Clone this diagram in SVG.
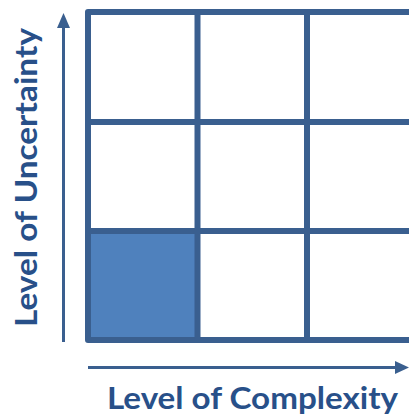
<svg xmlns="http://www.w3.org/2000/svg" width="409" height="416" viewBox="0 0 409 416">
<style>
.grid{fill:none;stroke:#3A5F8F;stroke-width:6;stroke-linejoin:round;stroke-linecap:butt}
.axis{stroke:#3A5F8F;stroke-width:3;fill:none}
.head{fill:#3A5F8F}
.lbl{font-family:Lato,"Open Sans","Liberation Sans",sans-serif;font-weight:bold;font-size:30px;fill:#285089}
</style>
<rect width="409" height="416" fill="#ffffff"/>
<g id="cell-highlight">
<rect x="88" y="231" width="109.5" height="109" fill="#4F81BD"/>
</g>
<g id="grid">
<path class="grid" d="M412 12 H88 V340 H412"/>
<path class="grid" d="M197.5 12 V340 M307 12 V340 M88 122 H412 M88 231 H412"/>
</g>
<g id="connectors">
<line class="axis" x1="63.5" y1="342" x2="63.5" y2="26"/>
<polygon class="head" points="63.5,13 57,28 70,28"/>
<line class="axis" x1="88" y1="367.5" x2="397" y2="367.5"/>
<polygon class="head" points="409,367.5 395,361 395,374"/>
</g>
<g id="x-label">
<text class="lbl" x="107" y="409" textLength="291" lengthAdjust="spacingAndGlyphs">Level of Complexity</text>
</g>
<g id="y-label">
<text class="lbl" transform="translate(37 327) rotate(-90)" x="0" y="0" textLength="299" lengthAdjust="spacingAndGlyphs">Level of Uncertainty</text>
</g>
</svg>
